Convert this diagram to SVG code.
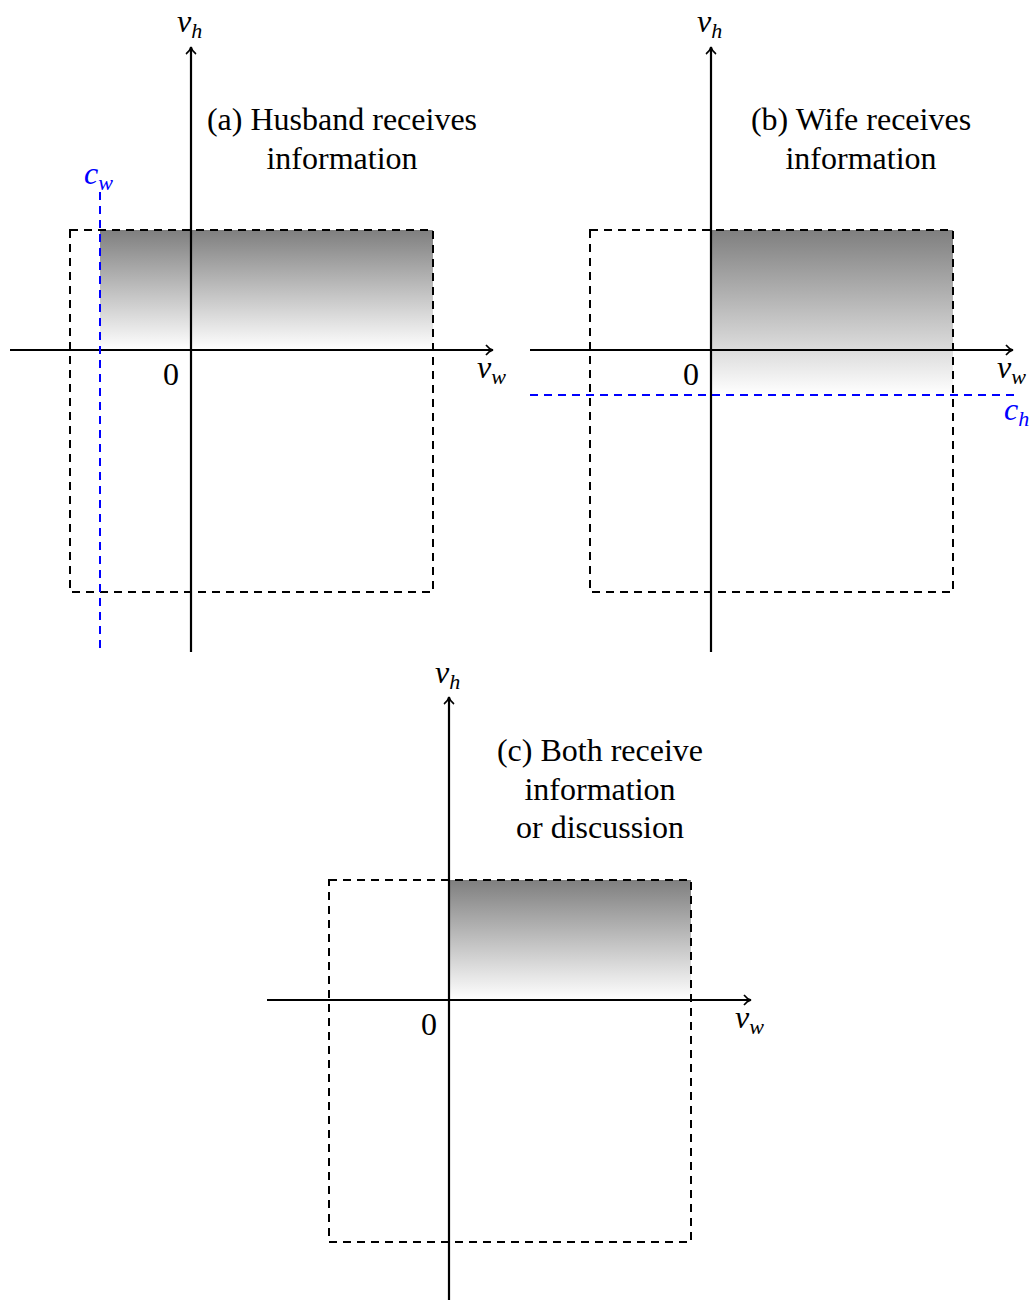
<svg xmlns="http://www.w3.org/2000/svg" width="1032" height="1301" viewBox="0 0 1032 1301">
<style>
.ax{stroke:#000;stroke-width:2.2;fill:none}
.box{stroke:#000;stroke-width:2;fill:none;stroke-dasharray:8 6}
.bl{stroke:#0000ff;stroke-width:2;fill:none;stroke-dasharray:8 6}
.t{font-family:"Liberation Serif","Times New Roman",serif;font-size:32px;fill:#000;text-anchor:middle}
.m{font-family:"Liberation Serif","Times New Roman",serif;font-style:italic;font-size:32px;fill:#000}
.s{font-size:22px}
.blue{fill:#0000ff}
</style>
<defs>
<linearGradient id="g" x1="0" y1="0" x2="0" y2="1">
<stop offset="0" stop-color="#7f7f7f"/>
<stop offset="1" stop-color="#ffffff"/>
</linearGradient>
<marker id="ar" viewBox="0 0 12 12" refX="11" refY="6" markerWidth="12" markerHeight="12" markerUnits="userSpaceOnUse" orient="auto">
<path d="M4 1 Q7 5 11 6 Q7 7 4 11" stroke="#000" stroke-width="1.6" fill="none"/>
</marker>
</defs>

<g id="panel-a">
<rect x="100" y="230" width="333" height="120" fill="url(#g)"/>
<rect class="box" x="70" y="230" width="363" height="362"/>
<text class="t" x="342" y="130">(a) Husband receives</text>
<text class="t" x="342" y="169">information</text>
<text class="m" x="177" y="32">v<tspan class="s" dy="6">h</tspan></text>
<text class="m" x="477" y="378">v<tspan class="s" dy="6">w</tspan></text>
<text class="t" x="171" y="385">0</text>
<text class="m blue" x="84" y="184">c<tspan class="s" dy="6">w</tspan></text>
</g>

<g id="panel-b">
<rect x="711" y="230" width="242" height="165" fill="url(#g)"/>
<rect class="box" x="590" y="230" width="363" height="362"/>
<text class="t" x="861" y="130">(b) Wife receives</text>
<text class="t" x="861" y="169">information</text>
<text class="m" x="697" y="32">v<tspan class="s" dy="6">h</tspan></text>
<text class="m" x="997" y="378">v<tspan class="s" dy="6">w</tspan></text>
<text class="t" x="691" y="385">0</text>
<text class="m blue" x="1004" y="420">c<tspan class="s" dy="6">h</tspan></text>
</g>

<g id="panel-c">
<rect x="449" y="880" width="242" height="120" fill="url(#g)"/>
<rect class="box" x="329" y="880" width="362" height="362"/>
<text class="t" x="600" y="761">(c) Both receive</text>
<text class="t" x="600" y="800">information</text>
<text class="t" x="600" y="838">or discussion</text>
<text class="m" x="435" y="683">v<tspan class="s" dy="6">h</tspan></text>
<text class="m" x="735" y="1028">v<tspan class="s" dy="6">w</tspan></text>
<text class="t" x="429" y="1035">0</text>
</g>

<g id="connectors">
<line class="ax" x1="191" y1="652" x2="191" y2="47" marker-end="url(#ar)"/>
<line class="ax" x1="10" y1="350" x2="493" y2="350" marker-end="url(#ar)"/>
<line class="bl" x1="100" y1="192" x2="100" y2="652"/>
<line class="ax" x1="711" y1="652" x2="711" y2="47" marker-end="url(#ar)"/>
<line class="ax" x1="530" y1="350" x2="1013" y2="350" marker-end="url(#ar)"/>
<line class="bl" x1="530" y1="395" x2="1015" y2="395"/>
<line class="ax" x1="449" y1="1300" x2="449" y2="697" marker-end="url(#ar)"/>
<line class="ax" x1="267" y1="1000" x2="751" y2="1000" marker-end="url(#ar)"/>
</g>
</svg>
